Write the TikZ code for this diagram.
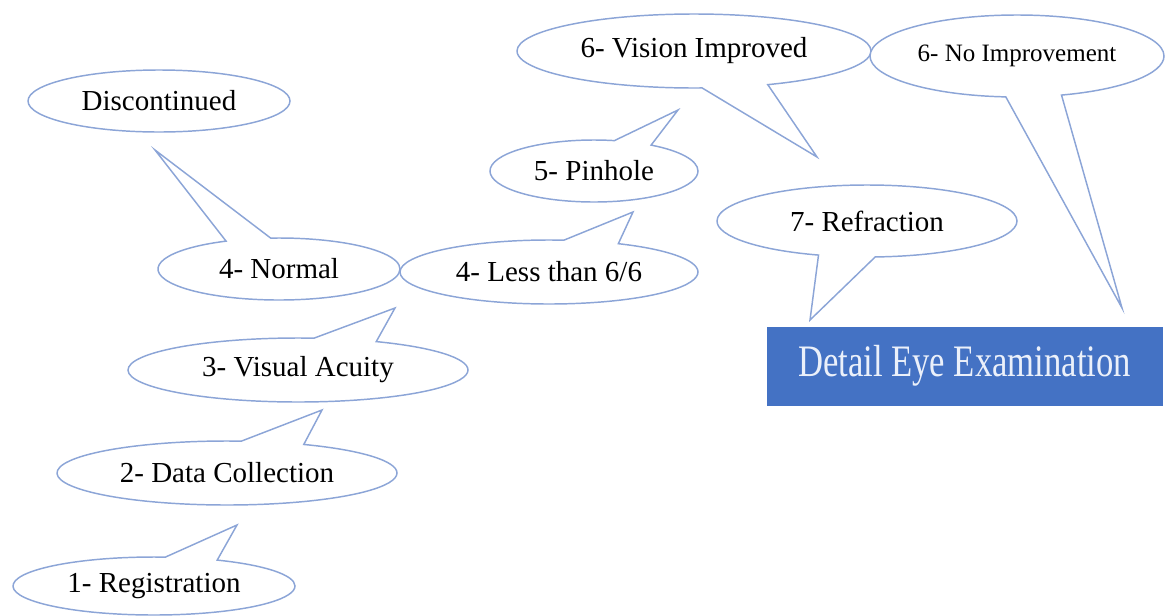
\documentclass[tikz,border=0pt]{standalone}
\usepackage{fontspec}
\setmainfont{Liberation Serif}
\usetikzlibrary{shapes.callouts,shapes.geometric}
\definecolor{lineblue}{RGB}{140,165,215}
\definecolor{boxblue}{RGB}{68,114,196}
\definecolor{boxtext}{RGB}{235,240,250}
\begin{document}
\begin{tikzpicture}[x=0.75pt,y=-0.75pt,
  bubble/.style={ellipse callout, draw=lineblue, fill=white, line width=1.1pt,
    inner sep=0pt, callout pointer arc=22, text=black,
    font=\rmfamily\fontsize{21.75}{24}\selectfont},
  oval/.style={ellipse, draw=lineblue, fill=white, line width=1.1pt,
    inner sep=0pt, text=black, font=\rmfamily\fontsize{21.75}{24}\selectfont},
  exambox/.style={rectangle, fill=boxblue, draw=boxblue, inner sep=0pt,
    text=boxtext, font=\rmfamily\fontsize{33.75}{36}\selectfont},
  sz/.style 2 args={minimum width=#1*0.75pt, minimum height=#2*0.75pt}]
\useasboundingbox (0,0) rectangle (1166,615);

% pointer tips
\coordinate (tNormal) at (155,150);
\coordinate (tVA) at (395,308);
\coordinate (tDC) at (322,410);
\coordinate (tReg) at (237,525);
\coordinate (tLess) at (633,212);
\coordinate (tPin) at (678,110);
\coordinate (tVI) at (817,157);
\coordinate (tNoImp) at (1122,308);
\coordinate (tRef) at (810,320);

\node[oval, sz={262}{62}] (disc) at (159,101) {Discontinued};
\node[bubble, sz={242}{62}, callout absolute pointer={(tNormal)}] (normal) at (279,269) {4- Normal};
\node[bubble, sz={298}{64}, callout absolute pointer={(tLess)}] (less) at (549,272) {4- Less than 6/6};
\node[bubble, sz={340}{64}, callout absolute pointer={(tVA)}] (va) at (298,370) {3- Visual Acuity};
\node[bubble, sz={340}{64}, callout absolute pointer={(tDC)}] (dc) at (227,473) {2- Data Collection};
\node[bubble, sz={282}{58}, callout absolute pointer={(tReg)}] (reg) at (154,586) {1- Registration};
\node[bubble, sz={208}{62}, callout absolute pointer={(tPin)}] (pin) at (594,171) {5- Pinhole};
\node[bubble, sz={354}{74}, callout absolute pointer={(tVI)}] (vi) at (694,51) {6- Vision Improved};
\node[bubble, sz={294}{82}, callout absolute pointer={(tNoImp)}, font=\rmfamily\fontsize{18.75}{22}\selectfont] (noimp) at (1017,56) {6- No Improvement};
\node[bubble, sz={300}{72}, callout absolute pointer={(tRef)}] (refr) at (867,221) {7- Refraction};
\node[exambox, sz={395}{78}] (exam) at (964.5,366) {\scalebox{0.77}[1]{Detail Eye Examination}};
\end{tikzpicture}
\end{document}
